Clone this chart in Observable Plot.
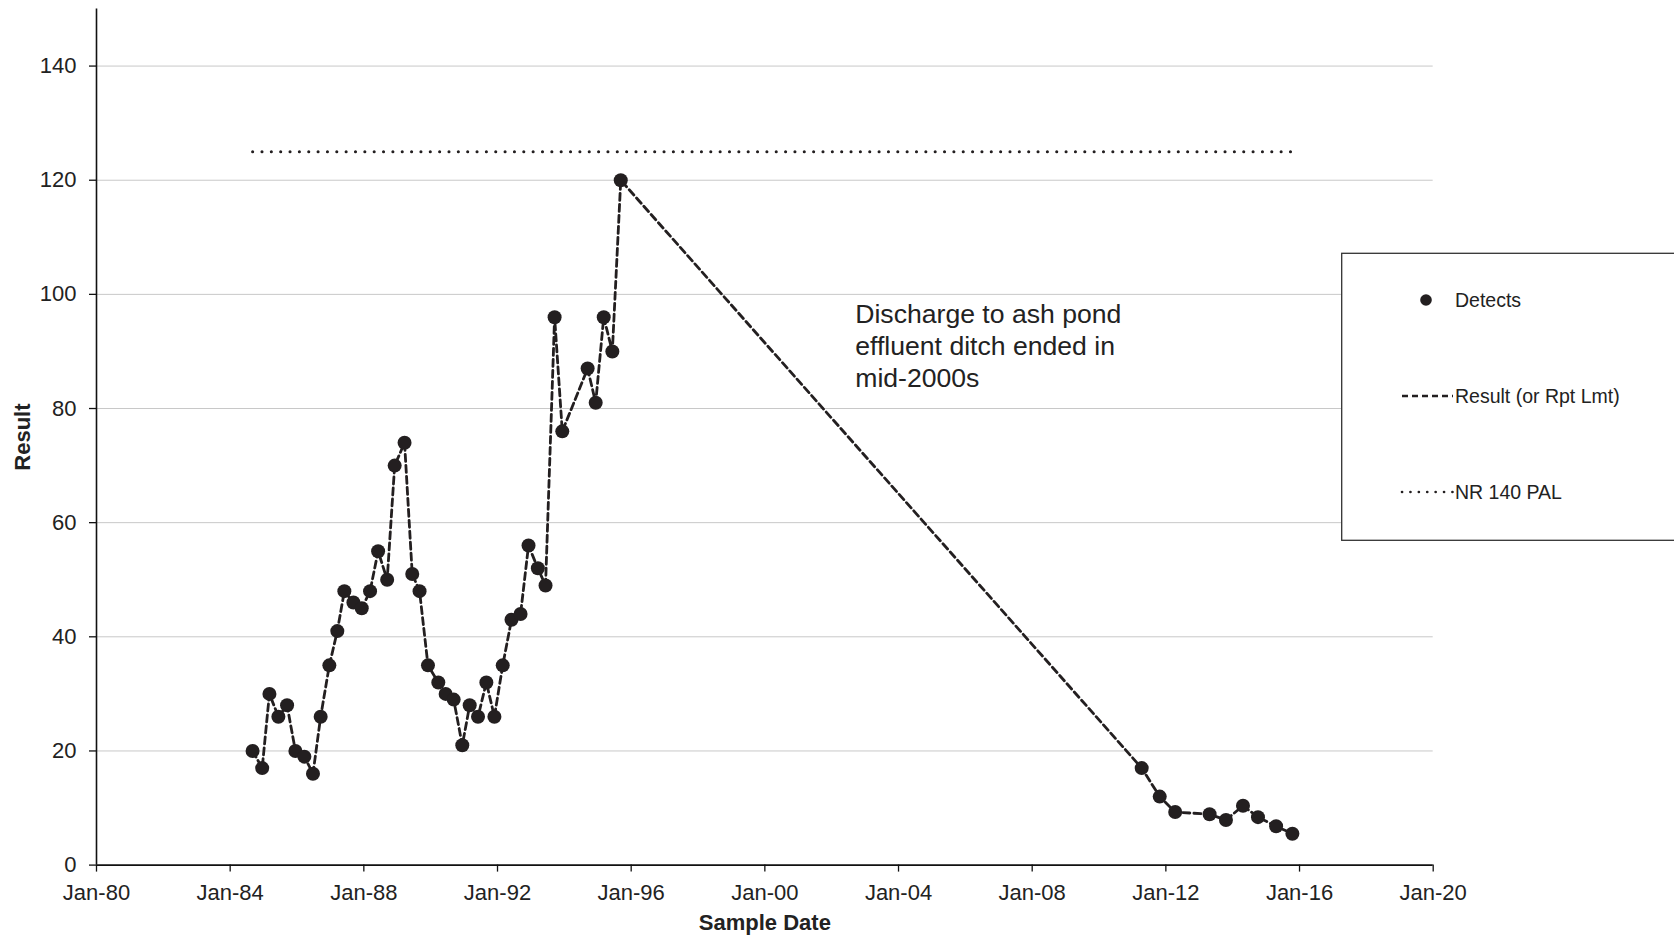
<!DOCTYPE html>
<html>
<head>
<meta charset="utf-8">
<script src="https://cdn.jsdelivr.net/npm/d3@7"></script>
<script src="https://cdn.jsdelivr.net/npm/@observablehq/plot@0.6"></script>
<style>
  html, body { margin: 0; padding: 0; background: #fff; }
  #chart { width: 1674px; height: 938px; overflow: hidden; }
</style>
</head>
<body>
<div id="chart"></div>
<script>
// ---- data ----
const sampleDates = [
  "1984-09-02","1984-12-16","1985-03-05","1985-06-11","1985-09-14","1985-12-14",
  "1986-03-22","1986-06-24","1986-09-16","1986-12-20","1987-03-17","1987-06-02",
  "1987-09-09","1987-12-09","1988-03-09","1988-06-05","1988-09-12","1988-12-03",
  "1989-03-21","1989-06-13","1989-09-01","1989-12-02","1990-03-25","1990-06-13",
  "1990-09-09","1990-12-12","1991-03-03","1991-06-02","1991-09-01","1991-11-28",
  "1992-02-27","1992-06-02","1992-09-09","1992-12-05","1993-03-17","1993-06-09",
  "1993-09-16","1993-12-09","1994-09-12","1994-12-09","1995-03-07","1995-06-09",
  "1995-09-09",
  "2011-04-12","2011-10-26","2012-04-12","2013-04-23","2013-10-19","2014-04-23",
  "2014-10-04","2015-04-20","2015-10-15"
];
const results = [
  20,17,30,26,28,20,
  19,16,26,35,41,48,
  46,45,48,55,50,70,
  74,51,48,35,32,30,
  29,21,28,26,32,26,
  35,43,44,56,52,49,
  96,76,87,81,96,90,
  120,
  17,12,9.3,8.9,7.9,10.4,
  8.4,6.8,5.5
];
const palValue = 125;
const palDates = ["1984-09-02", "2015-10-15"];
const xTickDates = ["1980-01-01","1984-01-01","1988-01-01","1992-01-01","1996-01-01",
  "2000-01-01","2004-01-01","2008-01-01","2012-01-01","2016-01-01","2020-01-01"];
const xTickLabels = ["Jan-80","Jan-84","Jan-88","Jan-92","Jan-96","Jan-00",
  "Jan-04","Jan-08","Jan-12","Jan-16","Jan-20"];
const yTicks = [0, 20, 40, 60, 80, 100, 120, 140];
const yDomain = [0, 150];
const annotationText = "Discharge to ash pond\neffluent ditch ended in\nmid-2000s";
const annotationDate = "2002-09-15";
const annotationY = 99.0;
const legendLabels = ["Detects", "Result (or Rpt Lmt)", "NR 140 PAL"];
const xTitle = "Sample Date";
const yTitle = "Result";

// ---- build tables ----
const parse = s => new Date(s + "T00:00:00Z");
const data = sampleDates.map((d, i) => ({date: parse(d), value: results[i]}));
const pal = palDates.map(d => ({date: parse(d), value: palValue}));
const xTicks = xTickDates.map(parse);

const ink = "#231f20";
const FONT = "'Liberation Sans', Arial, Helvetica, sans-serif";

const chart = Plot.plot({
  width: 1674,
  height: 938,
  marginLeft: 96,
  marginRight: 241.3,
  marginTop: 8.5,
  marginBottom: 73.4,
  style: {fontFamily: FONT, fontSize: "22px", color: "#222", background: "#fff", overflow: "visible"},
  x: {type: "utc", domain: [xTicks[0], xTicks[xTicks.length - 1]]},
  y: {domain: yDomain},
  marks: [
    Plot.gridY(yTicks.filter(d => d > 0), {stroke: "#c8c8c8", strokeOpacity: 1, strokeWidth: 1}),
    Plot.axisY({ticks: yTicks, tickSize: 7, tickPadding: 13, label: null, stroke: "#111", strokeWidth: 1.3}),
    Plot.axisX({ticks: xTicks, tickSize: 7, tickPadding: 12, label: null, stroke: "#111", strokeWidth: 1.3,
      tickFormat: (d, i) => xTickLabels[i]}),
    Plot.ruleY([0], {stroke: "#111", strokeWidth: 1.6}),
    Plot.ruleX([xTicks[0]], {y1: yDomain[0], y2: yDomain[1], stroke: "#111", strokeWidth: 1.6}),
    Plot.line(pal, {x: "date", y: "value", stroke: ink, strokeWidth: 3, strokeDasharray: "0.1,9.25", strokeLinecap: "round"}),
    Plot.line(data, {x: "date", y: "value", stroke: ink, strokeWidth: 2.8, strokeDasharray: "7,4"}),
    Plot.dot(data, {x: "date", y: "value", r: 7, fill: ink, stroke: "none"}),
    Plot.text([annotationText], {x: () => parse(annotationDate), y: () => annotationY, text: d => d,
      textAnchor: "start", lineAnchor: "top", lineHeight: 1.2, fontSize: 26.6, fill: "#222"}),
    Plot.text([yTitle], {frameAnchor: "left", dx: -74, rotate: -90, text: d => d, fontWeight: "bold",
      fontSize: 22, fill: "#222", lineAnchor: "middle", textAnchor: "middle"}),
    Plot.text([xTitle], {frameAnchor: "bottom", dy: 64.5, text: d => d, fontWeight: "bold",
      fontSize: 22, fill: "#222", lineAnchor: "bottom", textAnchor: "middle"})
  ]
});

// ---- legend (drawn into the same SVG) ----
const svg = d3.select(chart);
const lg = svg.append("g").attr("font-family", FONT).attr("font-size", 19.5).attr("fill", "#222")
  .attr("text-anchor", "start");
lg.append("rect").attr("x", 1341.7).attr("y", 253.3).attr("width", 360).attr("height", 287)
  .attr("fill", "#fff").attr("stroke", "#333").attr("stroke-width", 1.3);
const rows = [300, 396, 492];
lg.append("circle").attr("cx", 1426).attr("cy", rows[0]).attr("r", 5.8).attr("fill", ink);
lg.append("text").attr("x", 1455).attr("y", rows[0] + 7).attr("text-anchor", "start").text(legendLabels[0]);
lg.append("line").attr("x1", 1402).attr("x2", 1453).attr("y1", rows[1]).attr("y2", rows[1])
  .attr("stroke", ink).attr("stroke-width", 2.4).attr("stroke-dasharray", "6,4");
lg.append("text").attr("x", 1455).attr("y", rows[1] + 7).attr("text-anchor", "start").text(legendLabels[1]);
lg.append("line").attr("x1", 1402).attr("x2", 1453).attr("y1", rows[2]).attr("y2", rows[2])
  .attr("stroke", ink).attr("stroke-width", 2.6).attr("stroke-dasharray", "0.1,8.3").attr("stroke-linecap", "round");
lg.append("text").attr("x", 1455).attr("y", rows[2] + 7).attr("text-anchor", "start").text(legendLabels[2]);

document.getElementById("chart").appendChild(chart);
</script>
</body>
</html>
